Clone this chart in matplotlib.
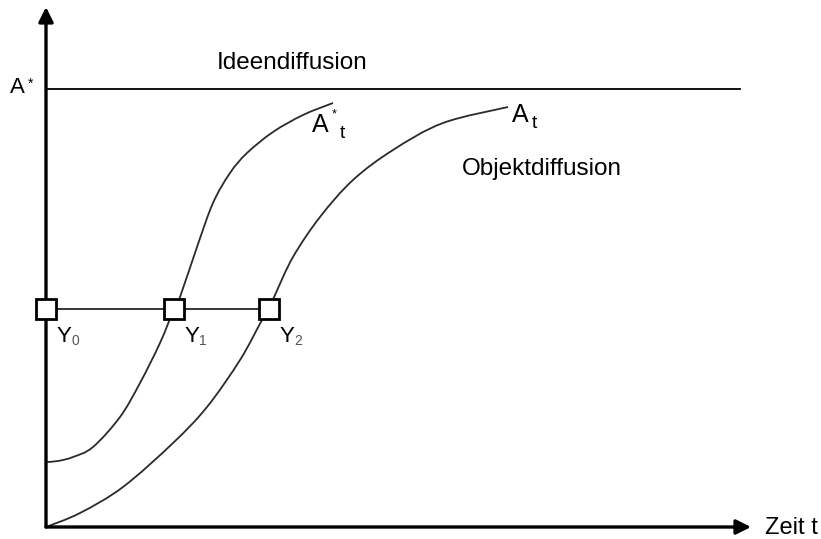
import matplotlib.pyplot as plt
from matplotlib.path import Path
from matplotlib.patches import PathPatch

plt.rcParams['font.family'] = ['Liberation Sans', 'DejaVu Sans']

# curve A*_t (idea diffusion realised), x = time, y = level
ideen_x = [0, 12, 27, 47, 74, 94, 114, 128, 134, 151, 167, 184, 201, 227, 257, 287]
ideen_y = [65, 66, 70, 80, 110, 144, 184, 218, 230, 280, 324, 354, 374, 395, 412, 424]

# curve A_t (object diffusion)
objekt_x = [0, 34, 77, 127, 161, 194, 216, 223, 229, 247, 274, 307, 347, 397, 462]
objekt_y = [0, 14, 40, 84, 120, 167, 207, 218, 232, 270, 310, 347, 377, 404, 420]

# saturation level A* and the Y level
a_stern = 438
a_stern_end = 694
y_level = 218
y_points = [0, 128, 223]
y_labels = ['0', '1', '2']


def smooth_path(xs, ys):
    # catmull-rom through the points, drawn as cubic bezier segments
    pts = list(zip(xs, ys))
    n = len(pts)
    verts = [pts[0]]
    codes = [Path.MOVETO]
    for i in range(n - 1):
        p0 = pts[max(i - 1, 0)]
        p1 = pts[i]
        p2 = pts[i + 1]
        p3 = pts[min(i + 2, n - 1)]
        c1 = (p1[0] + (p2[0] - p0[0]) / 6, p1[1] + (p2[1] - p0[1]) / 6)
        c2 = (p2[0] - (p3[0] - p1[0]) / 6, p2[1] - (p3[1] - p1[1]) / 6)
        verts += [c1, c2, p2]
        codes += [Path.CURVE4] * 3
    return Path(verts, codes)


fig = plt.figure(figsize=(8.21, 5.39), dpi=100)
ax = fig.add_axes([0, 0, 1, 1])
ax.set_xlim(-46, 775)
ax.set_ylim(-12, 527)
ax.axis('off')

# axes with arrows
ax.annotate('', xy=(0, 520), xytext=(0, 0),
            arrowprops=dict(arrowstyle='-|>', color='black', lw=2.4,
                            mutation_scale=22, shrinkA=0, shrinkB=0))
ax.annotate('', xy=(705, 0), xytext=(0, 0),
            arrowprops=dict(arrowstyle='-|>', color='black', lw=2.4,
                            mutation_scale=22, shrinkA=0, shrinkB=0))

ax.plot([0, a_stern_end], [a_stern, a_stern], color='black', lw=1.3)
for xs, ys in [(ideen_x, ideen_y), (objekt_x, objekt_y)]:
    ax.add_patch(PathPatch(smooth_path(xs, ys), fill=False, edgecolor='#2a2a2a', lw=1.3))

ax.plot([y_points[0], y_points[-1]], [y_level, y_level], color='black', lw=1.1)
ax.plot(y_points, [y_level] * len(y_points), ls='none', marker='s', ms=15,
        mfc='white', mec='black', mew=2.0, zorder=5)

fs = 17
ax.text(-36, a_stern - 4, 'A', fontsize=16, ha='left', va='baseline')
ax.text(-18, a_stern + 1, '*', fontsize=10, ha='left', va='baseline')
ax.text(171, a_stern + 20, 'Ideendiffusion', fontsize=17.5, ha='left', va='baseline')
ax.text(416, 352, 'Objektdiffusion', fontsize=17.5, ha='left', va='baseline')
ax.text(719, -7, 'Zeit t', fontsize=fs, ha='left', va='baseline')

ax.text(266, 395, 'A', fontsize=18, ha='left', va='baseline')
ax.text(286, 410, '*', fontsize=9, ha='left', va='baseline')
ax.text(294, 389, 't', fontsize=14, ha='left', va='baseline')
ax.text(466, 405, 'A', fontsize=18, ha='left', va='baseline')
ax.text(486, 399, 't', fontsize=14, ha='left', va='baseline')

for xp, lab in zip(y_points, y_labels):
    ax.text(xp + 11, 185, 'Y', fontsize=16, ha='left', va='baseline')
    ax.text(xp + 25, 182, lab, fontsize=10, ha='left', va='baseline', color='#555555')

fig.savefig('out.png', dpi=100)
